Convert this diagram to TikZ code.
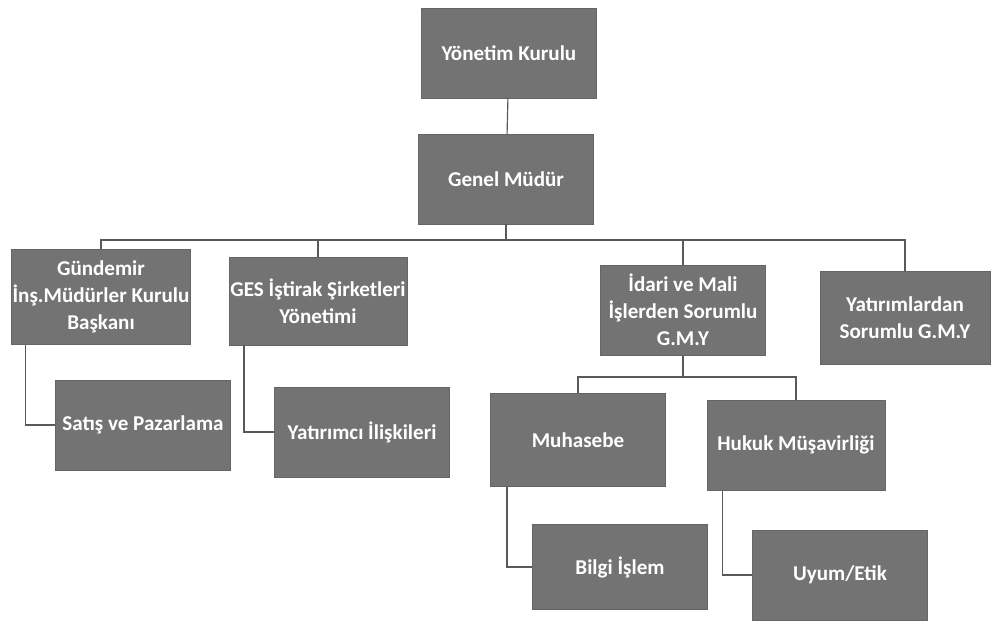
\documentclass[tikz,border=0pt]{standalone}
\usepackage{fontspec}
\setmainfont{Carlito}

\tikzset{
  unit/.style={draw=black!60, fill=black!55, text=white, align=center,
    minimum width=5.25cm, minimum height=2.7cm, inner sep=1pt,
    font=\fontsize{18}{23}\selectfont\bfseries},
  link/.style={draw=black!65, line width=1pt},
}

\begin{document}
\begin{tikzpicture}[x=0.03cm, y=-0.03cm]
  \useasboundingbox (0,0) rectangle (994,635);
  % Board and general manager
  \node[unit] (board) at (509,53) {Yönetim Kurulu};
  \node[unit] (gm) at (506,179) {Genel Müdür};
  % First level
  \node[unit, minimum width=5.35cm, minimum height=2.85cm] (gundemir) at (101,297) {Gündemir\\İnş.Müdürler Kurulu\\Başkanı};
  \node[unit, minimum height=2.65cm] (ges) at (318,301) {GES İştirak Şirketleri\\Yönetimi};
  \node[unit, minimum width=4.95cm] (idari) at (683,310) {İdari ve Mali\\İşlerden Sorumlu\\G.M.Y};
  \node[unit, minimum width=5.1cm, minimum height=2.8cm] (yatirim) at (905,318) {Yatırımlardan\\Sorumlu G.M.Y};
  % Second level
  \node[unit] (satis) at (143,425) {Satış ve Pazarlama};
  \node[unit] (yatirimci) at (362,432) {Yatırımcı İlişkileri};
  \node[unit, minimum height=2.8cm] (muhasebe) at (578,440) {Muhasebe};
  \node[unit, minimum width=5.35cm] (hukuk) at (796,445) {Hukuk Müşavirliği};
  % Third level
  \node[unit, minimum height=2.55cm] (bilgi) at (620,567) {Bilgi İşlem};
  \node[unit] (uyum) at (840,575) {Uyum/Etik};
  % Buses
  \coordinate (bus) at (0,240);
  \coordinate (bus2) at (0,377);
  % Connectors
  \draw[link] (board) -- (gm);
  \draw[link] (gm.south) -- (gm.south |- bus);
  \draw[link] (gundemir.north) |- (bus -| yatirim.north) -- (yatirim.north);
  \foreach \n in {ges, idari}
    \draw[link] (\n.north) -- (\n.north |- bus);
  \draw[link] (idari.south) -- (idari.south |- bus2);
  \draw[link] (muhasebe.north) |- (bus2 -| hukuk.north) -- (hukuk.north);
  \draw[link] ([xshift=0.42cm]gundemir.south west) |- (satis.west);
  \draw[link] ([xshift=0.45cm]ges.south west) |- (yatirimci.west);
  \draw[link] ([xshift=0.5cm]muhasebe.south west) |- (bilgi.west);
  \draw[link] ([xshift=0.48cm]hukuk.south west) |- (uyum.west);
\end{tikzpicture}
\end{document}
